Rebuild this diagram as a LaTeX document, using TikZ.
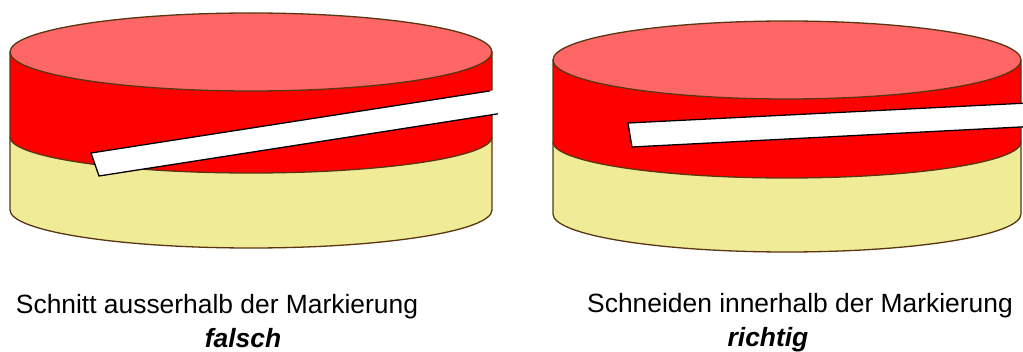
\documentclass[tikz,border=0pt]{standalone}
\usepackage{fontspec}
\setmainfont{Liberation Sans}
\definecolor{capcol}{HTML}{FF6666}
\definecolor{bandcol}{HTML}{FF0000}
\definecolor{basecol}{HTML}{EFEB97}
\definecolor{rimcol}{HTML}{5A3512}

% A two-layer cake seen from the side:
% #1 centre x, #2 half width, #3 top rim y, #4 layer seam y, #5 bottom rim y
\newcommand{\cake}[5]{%
  \begin{scope}[shift={(#1,0)}]
    \fill[basecol] (-#2,-#4) -- (-#2,-#5)
      arc[start angle=180,end angle=360,x radius=#2,y radius=38] -- (#2,-#4) -- cycle;
    \fill[bandcol] (-#2,-#3) -- (-#2,-#4)
      arc[start angle=180,end angle=360,x radius=#2,y radius=36] -- (#2,-#3) -- cycle;
    \draw[rim] (-#2,-#4) arc[start angle=180,end angle=360,x radius=#2,y radius=36];
    \draw[rim] (-#2,-#3) -- (-#2,-#5)
      arc[start angle=180,end angle=360,x radius=#2,y radius=38] -- (#2,-#3);
    \filldraw[rim,fill=capcol] (0,-#3) ellipse[x radius=#2,y radius=39];
  \end{scope}}

\begin{document}
\begin{tikzpicture}[x=1pt,y=1pt,
  rim/.style={draw=rimcol,line width=1.3pt,line join=round},
  stripedge/.style={draw=black,line width=1.3pt,line join=miter},
  caption/.style={font=\fontsize{26.4}{30}\selectfont,anchor=base,inner sep=0pt},
  verdict/.style={font=\fontsize{26.4}{30}\selectfont\bfseries\itshape,anchor=base,inner sep=0pt}]
\useasboundingbox (0,0) rectangle (1023,-352);
\clip (0,0) rectangle (1023,-352);

% left cake, cut running out past the marking
\cake{251}{241}{52}{137}{210}
\coordinate (lA) at (91,-153);
\coordinate (lB) at (99,-176);
\coordinate (lC) at (500,-113.5);
\coordinate (lD) at (500,-89.3);
\coordinate (lTe) at (490,-90.9);
\coordinate (lBe) at (498,-113.8);
\fill[white] (lA) -- (lB) -- (lC) -- (lD) -- cycle;
\draw[stripedge] (lTe) -- (lA) -- (lB) -- (lBe);

% right cake, cut kept inside the marking
\cake{787}{234}{60}{142}{214}
\coordinate (rA) at (628,-123);
\coordinate (rB) at (632,-147);
\coordinate (rC) at (1030,-126.5);
\coordinate (rD) at (1030,-102.9);
\fill[white] (rA) -- (rB) -- (rC) -- (rD) -- cycle;
\draw[stripedge] (rD) -- (rA) -- (rB) -- (rC);

% captions
\node[caption] (capL) at (217,-314) {Schnitt ausserhalb der Markierung};
\node[verdict] (verL) at (243,-348) {falsch};
\node[caption] (capR) at (800,-313) {Schneiden innerhalb der Markierung};
\node[verdict] (verR) at (768,-347) {richtig};
\end{tikzpicture}
\end{document}
